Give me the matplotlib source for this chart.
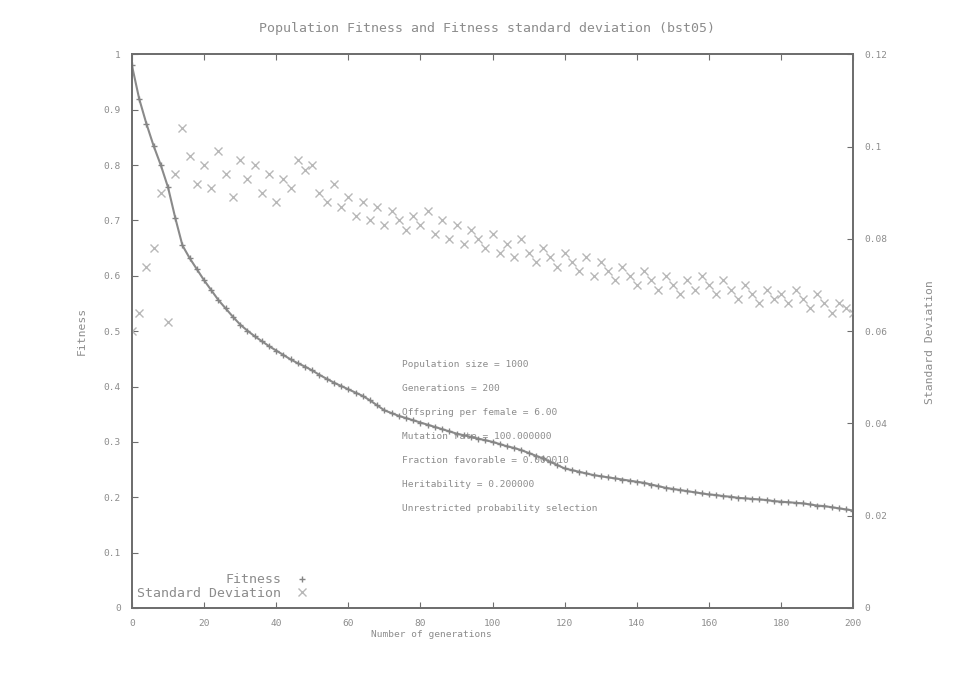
import numpy as np
import matplotlib
matplotlib.use("Agg")
import matplotlib.pyplot as plt
from matplotlib.ticker import FormatStrFormatter

# generations, sampled every 2
gens = np.arange(0, 201, 2)

fitness = [0.98, 0.92, 0.875, 0.835, 0.80, 0.76, 0.705, 0.655, 0.632, 0.612,
           0.592, 0.574, 0.556, 0.541, 0.526, 0.512, 0.501, 0.491, 0.482, 0.473,
           0.465, 0.457, 0.449, 0.442, 0.436, 0.429, 0.421, 0.414, 0.407, 0.401,
           0.395, 0.389, 0.383, 0.375, 0.366, 0.357, 0.352, 0.347, 0.343, 0.339,
           0.335, 0.331, 0.327, 0.323, 0.319, 0.315, 0.312, 0.309, 0.306, 0.303,
           0.300, 0.296, 0.292, 0.289, 0.285, 0.280, 0.275, 0.270, 0.264, 0.258,
           0.252, 0.249, 0.246, 0.243, 0.240, 0.238, 0.236, 0.234, 0.232, 0.230,
           0.228, 0.226, 0.223, 0.220, 0.217, 0.215, 0.213, 0.211, 0.209, 0.207,
           0.205, 0.204, 0.202, 0.201, 0.199, 0.198, 0.197, 0.196, 0.195, 0.193,
           0.192, 0.191, 0.190, 0.189, 0.187, 0.185, 0.184, 0.182, 0.180, 0.178,
           0.176]

std_dev = [0.060, 0.064, 0.074, 0.078, 0.090, 0.062, 0.094, 0.104, 0.098, 0.092,
           0.096, 0.091, 0.099, 0.094, 0.089, 0.097, 0.093, 0.096, 0.090, 0.094,
           0.088, 0.093, 0.091, 0.097, 0.095, 0.096, 0.090, 0.088, 0.092, 0.087,
           0.089, 0.085, 0.088, 0.084, 0.087, 0.083, 0.086, 0.084, 0.082, 0.085,
           0.083, 0.086, 0.081, 0.084, 0.080, 0.083, 0.079, 0.082, 0.080, 0.078,
           0.081, 0.077, 0.079, 0.076, 0.080, 0.077, 0.075, 0.078, 0.076, 0.074,
           0.077, 0.075, 0.073, 0.076, 0.072, 0.075, 0.073, 0.071, 0.074, 0.072,
           0.070, 0.073, 0.071, 0.069, 0.072, 0.070, 0.068, 0.071, 0.069, 0.072,
           0.070, 0.068, 0.071, 0.069, 0.067, 0.070, 0.068, 0.066, 0.069, 0.067,
           0.068, 0.066, 0.069, 0.067, 0.065, 0.068, 0.066, 0.064, 0.066, 0.065,
           0.064]

x_ticks = [0, 20, 40, 60, 80, 100, 120, 140, 160, 180, 200]
y_ticks = [0, 0.1, 0.2, 0.3, 0.4, 0.5, 0.6, 0.7, 0.8, 0.9, 1]
y2_ticks = [0, 0.02, 0.04, 0.06, 0.08, 0.1, 0.12]

params = ["Population size = 1000",
          "Generations = 200",
          "Offspring per female = 6.00",
          "Mutation rate = 100.000000",
          "Fraction favorable = 0.000010",
          "Heritability = 0.200000",
          "Unrestricted probability selection"]

plt.rcParams['font.family'] = ['DejaVu Sans Mono']

txt = "#8c8c8c"
axc = "#6e6e6e"
fs = 6.8
fs_big = 9.5

fig = plt.figure(figsize=(9.63, 6.89), dpi=100)
ax = fig.add_axes([0.137, 0.1176, 0.749, 0.8035])
ax2 = ax.twinx()

# dense points blur into a band in the scan, so a thin line under the markers
ax.plot(gens, fitness, ls="-", lw=1.5, color="#8a8a8a")
ax.plot(gens, fitness, ls="none", marker="+", ms=5, mew=1.0,
        color="#858585", label="Fitness")
ax2.plot(gens, std_dev, ls="none", marker="x", ms=5.5, mew=1.0,
         color="#b8b8b8", label="Standard Deviation")

ax.set_xlim(0, 200)
ax.set_ylim(0, 1)
ax2.set_ylim(0, 0.12)
ax.set_xticks(x_ticks)
ax.set_yticks(y_ticks)
ax2.set_yticks(y2_ticks)
ax.yaxis.set_major_formatter(FormatStrFormatter("%g"))
ax2.yaxis.set_major_formatter(FormatStrFormatter("%g"))

for a in (ax, ax2):
    for s in a.spines.values():
        s.set_color(axc)
        s.set_linewidth(1.3)
    a.tick_params(direction="in", length=4, width=0.8, color=axc,
                  labelcolor=txt, labelsize=fs, pad=8)
ax.tick_params(axis="x", top=True)

ax.set_xlabel("Number of generations", color=txt, fontsize=fs)
ax.xaxis.set_label_coords(0.415, -0.04)
ax.set_ylabel("Fitness", color=txt, fontsize=8.2, labelpad=12)
ax2.set_ylabel("Standard Deviation", color=txt, fontsize=8.2)
ax2.yaxis.set_label_coords(1.10, 0.48)

fig.text(0.506, 0.959, "Population Fitness and Fitness standard deviation (bst05)",
         color=txt, fontsize=fs_big, ha="center", va="center")

for i, p in enumerate(params):
    ax.text(0.375, 0.44 - i * 0.0435, p, transform=ax.transAxes,
            color=txt, fontsize=fs, ha="left", va="center")

h1, l1 = ax.get_legend_handles_labels()
h2, l2 = ax2.get_legend_handles_labels()
leg = ax2.legend(h1 + h2, l1 + l2, loc="lower left", markerfirst=False,
                 frameon=False, fontsize=fs_big, labelcolor=txt,
                 borderaxespad=0.0, handlelength=1.5, labelspacing=0.05,
                 bbox_to_anchor=(0.0, 0.005))

fig.savefig("out.png", dpi=100)
